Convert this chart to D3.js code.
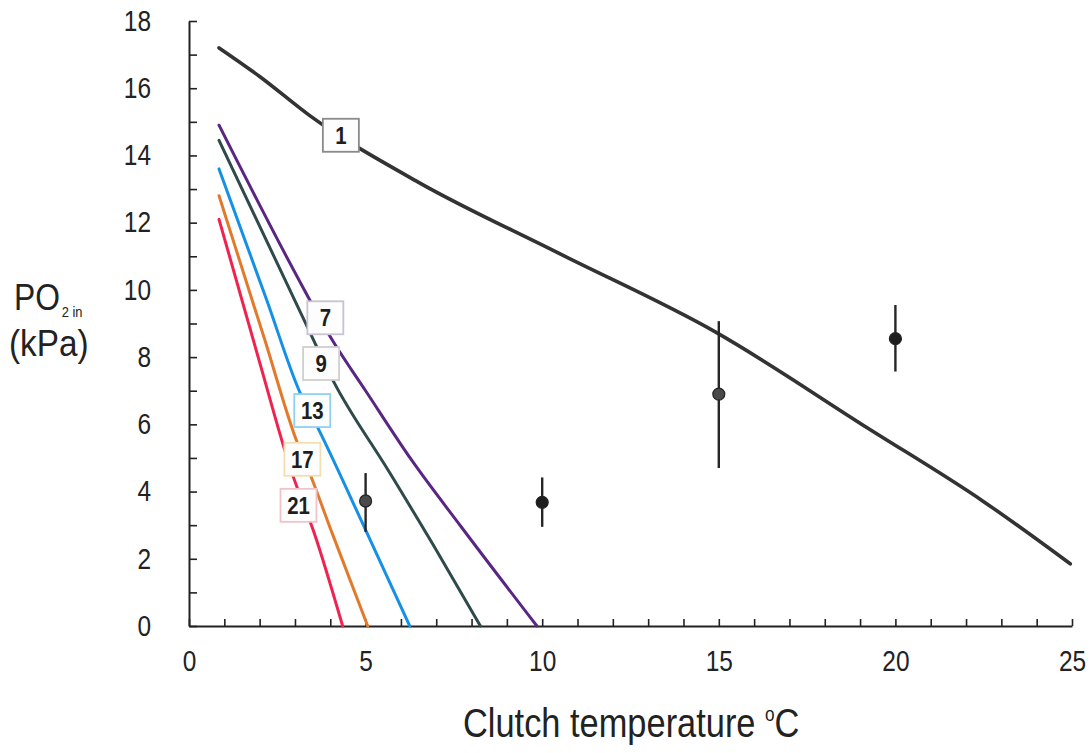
<!DOCTYPE html>
<html>
<head>
<meta charset="utf-8">
<script src="https://cdn.jsdelivr.net/npm/d3@7"></script>
<style>
  html, body { margin: 0; padding: 0; background: #fff; }
  svg { display: block; }
  .tick text { font-family: "Liberation Sans", Arial, sans-serif; fill: #222; }
</style>
</head>
<body>
<svg id="chart" width="1091" height="753"></svg>
<script>
// O2 partial pressure inside clutches vs temperature, per clutch size
const xTicks = d3.range(0, 26, 1);
const xLabels = [0, 5, 10, 15, 20, 25];
const yTicks = d3.range(0, 19, 1);
const yLabels = [0, 2, 4, 6, 8, 10, 12, 14, 16, 18];

const curve1  = [[0.85,17.2],[2,16.35],[3.4,15.2],[6.5,13.2],[10.45,11.1],[14.9,8.75],[19.2,5.9],[22.5,3.7],[24.95,1.85]];
const curve7  = [[0.85,14.9],[3.06,10.4],[4.06,8.5],[5.0,7.0],[6.3,4.94],[7.7,2.96],[9.85,0]];
const curve9  = [[0.85,14.45],[3.35,8.9],[4.08,7.3],[5.63,4.65],[6.95,2.35],[8.25,0]];
const curve13 = [[0.85,13.6],[2.2,9.7],[3.14,6.95],[3.68,5.83],[4.96,2.95],[6.25,0]];
const curve17 = [[0.85,12.8],[2.15,8.5],[2.98,5.7],[3.49,4.35],[4.05,2.77],[5.06,0]];
const curve21 = [[0.85,12.1],[1.98,7.92],[2.9,4.6],[3.55,2.75],[4.35,0]];

const seriesNames  = ["1", "7", "9", "13", "17", "21"];
const seriesData   = [curve1, curve7, curve9, curve13, curve17, curve21];
const seriesColors = ["#333333", "#5a2683", "#2f4a4b", "#1490e6", "#e27a2c", "#ef2350"];
const boxStrokes   = ["#8a8a8a", "#c9c2d2", "#cfcfcf", "#8fd0f2", "#f3deb0", "#f0c3cc"];
// label anchor points (data units) for the numbered boxes
const labelX = [4.3, 3.86, 3.74, 3.49, 3.21, 3.1];
const labelY = [14.6, 9.17, 7.81, 6.41, 4.96, 3.59];

// measured means with error ranges
const obsTemp = [5, 10, 15, 20];
const obsMean = [3.72, 3.68, 6.9, 8.55];
const obsLow  = [2.8, 2.95, 4.7, 7.57];
const obsHigh = [4.55, 4.42, 9.07, 9.55];

const svg = d3.select("#chart");

const x = d3.scaleLinear().domain([0, 25]).range([189, 1072]);
const y = d3.scaleLinear().domain([0, 18]).range([626, 21]);

// axes: inward ticks at every unit, labels only at the major values
const xAxis = d3.axisBottom(x)
  .tickValues(xTicks)
  .tickSizeInner(-7)
  .tickSizeOuter(0)
  .tickPadding(24)
  .tickFormat(d => xLabels.includes(d) ? d : "");

const yAxis = d3.axisLeft(y)
  .tickValues(yTicks)
  .tickSizeInner(-8)
  .tickSizeOuter(0)
  .tickPadding(38)
  .tickFormat(d => yLabels.includes(d) ? d : "");

const gx = svg.append("g").attr("transform", `translate(0,${y(0)})`).call(xAxis);
const gy = svg.append("g").attr("transform", `translate(${x(0)},0)`).call(yAxis);

[gx, gy].forEach(g => {
  g.select(".domain").attr("stroke", "#222").attr("stroke-width", 2);
  g.selectAll(".tick line").attr("stroke", "#222").attr("stroke-width", 1.6);
  g.selectAll(".tick text")
    .attr("font-size", 29)
    .each(function () {
      const n = this.textContent.length;
      if (n) d3.select(this).attr("textLength", n * 13.6).attr("lengthAdjust", "spacingAndGlyphs");
    });
});

// curves
const line = d3.line()
  .x(d => x(d[0]))
  .y(d => y(d[1]))
  .curve(d3.curveMonotoneX);

svg.append("g").selectAll("path")
  .data(seriesData)
  .join("path")
  .attr("d", line)
  .attr("fill", "none")
  .attr("stroke", (d, i) => seriesColors[i])
  .attr("stroke-width", (d, i) => i === 0 ? 3.6 : 3)
  .attr("stroke-linejoin", "round")
  .attr("stroke-linecap", "round");

// error bars and means
const obs = obsTemp.map((t, i) => ({ t, m: obsMean[i], lo: obsLow[i], hi: obsHigh[i] }));
const og = svg.append("g");
og.selectAll("line")
  .data(obs)
  .join("line")
  .attr("x1", d => x(d.t)).attr("x2", d => x(d.t))
  .attr("y1", d => y(d.lo)).attr("y2", d => y(d.hi))
  .attr("stroke", "#262626")
  .attr("stroke-width", 2.4);
og.selectAll("circle")
  .data(obs)
  .join("circle")
  .attr("cx", d => x(d.t))
  .attr("cy", d => y(d.m))
  .attr("r", 6)
  .attr("fill", (d, i) => i === 0 || i === 2 ? "#4a4a4a" : "#1e1e1e")
  .attr("stroke", "#222")
  .attr("stroke-width", 1.2);

// numbered boxes naming each curve
const lg = svg.append("g");
const boxW = 36, boxH = 33;
seriesNames.forEach((name, i) => {
  const cx = x(labelX[i]), cy = y(labelY[i]);
  lg.append("rect")
    .attr("x", cx - boxW / 2).attr("y", cy - boxH / 2)
    .attr("width", boxW).attr("height", boxH)
    .attr("fill", "#fdfdfd")
    .attr("stroke", boxStrokes[i])
    .attr("stroke-width", 1.8);
  lg.append("text")
    .attr("transform", `translate(${cx},${cy + 8.5}) scale(0.85,1)`)
    .attr("text-anchor", "middle")
    .attr("font-family", "'Liberation Sans', Arial, sans-serif")
    .attr("font-weight", "bold")
    .attr("font-size", 24)
    .attr("fill", "#1e1e1e")
    .text(name);
});

// axis titles
const tf = "'Liberation Sans', Arial, sans-serif";
const yt = svg.append("text")
  .attr("transform", "translate(14,310) scale(0.86,1)")
  .attr("font-family", tf).attr("font-size", 37).attr("fill", "#222");
yt.append("tspan").text("PO");
yt.append("tspan").attr("font-size", 15).attr("dy", 7).attr("dx", 2).text("2 in");

svg.append("text")
  .attr("transform", "translate(9,356) scale(0.9,1)")
  .attr("font-family", tf).attr("font-size", 37).attr("fill", "#222")
  .text("(kPa)");

const xt = svg.append("text")
  .attr("transform", "translate(463,737) scale(0.86,1)")
  .attr("font-family", tf).attr("font-size", 40).attr("fill", "#222");
xt.append("tspan").text("Clutch temperature ");
xt.append("tspan").attr("font-size", 20).attr("dy", -16).text("o");
xt.append("tspan").attr("dy", 16).text("C");
</script>
</body>
</html>
